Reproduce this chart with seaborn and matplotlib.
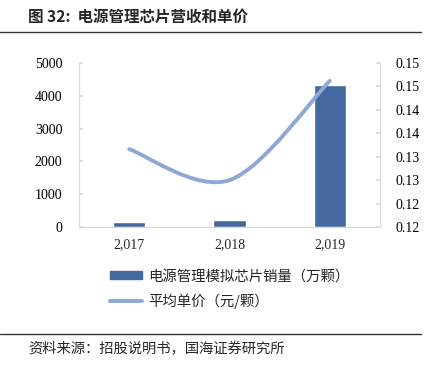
import numpy as np
import matplotlib
matplotlib.use("Agg")
import matplotlib.pyplot as plt
import seaborn as sns
from matplotlib.path import Path
from matplotlib.patches import PathPatch, Patch
from matplotlib.lines import Line2D

# data
years = ["2,017", "2,018", "2,019"]
sales = [160, 210, 4330]            # 电源管理模拟芯片销量（万颗）
price = [0.1316, 0.1250, 0.1462]    # 平均单价（元/颗）
left_ticks = [0, 1000, 2000, 3000, 4000, 5000]
right_ticks = [0.115, 0.12, 0.125, 0.13, 0.135, 0.14, 0.145, 0.15]
right_labels = ["0.12", "0.12", "0.13", "0.13", "0.14", "0.14", "0.15", "0.15"]

bar_color = "#45689F"
line_color = "#8EA8D6"
spine_color = "#D9D9D9"

sns.set_theme(style="white")
plt.rcParams["font.family"] = ["Noto Sans CJK SC", "DejaVu Sans"]
serif = ["Liberation Serif", "DejaVu Serif"]

W, H = 430, 365
fig = plt.figure(figsize=(W / 100, H / 100), dpi=100)
ax = fig.add_axes([79 / W, 1 - 227 / H, (380 - 79) / W, (227 - 63) / H])

sns.barplot(x=years, y=sales, ax=ax, color=bar_color, width=0.32, saturation=1)
ax.set_xlim(-0.5, 2.5)
ax.set_ylim(0, 5000)
ax.set_yticks(left_ticks)
ax.set_xlabel("")
ax.set_ylabel("")

ax2 = ax.twinx()
ax2.set_ylim(0.115, 0.15)
ax2.set_yticks(right_ticks)
ax2.set_yticklabels(right_labels)

# smoothed line (Catmull-Rom as cubic Bezier segments)
pts = np.column_stack([np.arange(len(price)), price])
ext = np.vstack([pts[0], pts, pts[-1]])
verts = [tuple(pts[0])]
codes = [Path.MOVETO]
for i in range(len(pts) - 1):
    p0, p1, p2, p3 = ext[i], ext[i + 1], ext[i + 2], ext[i + 3]
    c1 = p1 + (p2 - p0) / 6
    c2 = p2 - (p3 - p1) / 6
    verts += [tuple(c1), tuple(c2), tuple(p2)]
    codes += [Path.CURVE4] * 3
ax2.add_patch(PathPatch(Path(verts, codes), facecolor="none",
                        edgecolor=line_color, lw=2.8, capstyle="round"))

for a in (ax, ax2):
    for s in a.spines.values():
        s.set_color(spine_color)
        s.set_linewidth(0.8)
    a.spines["top"].set_visible(False)
    a.tick_params(axis="y", direction="in", length=3, color=spine_color,
                  labelsize=10, colors="black")
    a.grid(False)
ax.spines["right"].set_visible(False)
ax.tick_params(axis="y", pad=12)
ax2.tick_params(axis="y", pad=11)
ax.tick_params(axis="x", length=0, labelsize=10, pad=8)
for lab in ax.get_xticklabels() + ax.get_yticklabels() + ax2.get_yticklabels():
    lab.set_fontfamily(serif)

# legend
handles = [Patch(color=bar_color), Line2D([], [], color=line_color, lw=2.8)]
labels = ["电源管理模拟芯片销量（万颗）", "平均单价（元/颗）"]
fig.legend(handles, labels, loc="upper left", bbox_to_anchor=(103 / W, 1 - 262 / H),
           frameon=False, fontsize=10.4, handlelength=2.2, handleheight=0.55,
           handletextpad=0.4, labelspacing=0.7, borderpad=0)

# title, rules and source
fig.text(28 / W, 1 - 17 / H, "图 32:  电源管理芯片营收和单价", fontsize=11.2,
         fontweight="bold", va="center", ha="left")
fig.add_artist(Line2D([0, 421 / W], [1 - 31.5 / H] * 2, color="#333333", lw=1))
fig.add_artist(Line2D([0, 421 / W], [1 - 334 / H] * 2, color="#333333", lw=1))
fig.text(28 / W, 1 - 349 / H, "资料来源：招股说明书，国海证券研究所", fontsize=10.3,
         va="center", ha="left")

fig.savefig("out.png", dpi=100, facecolor="white")
